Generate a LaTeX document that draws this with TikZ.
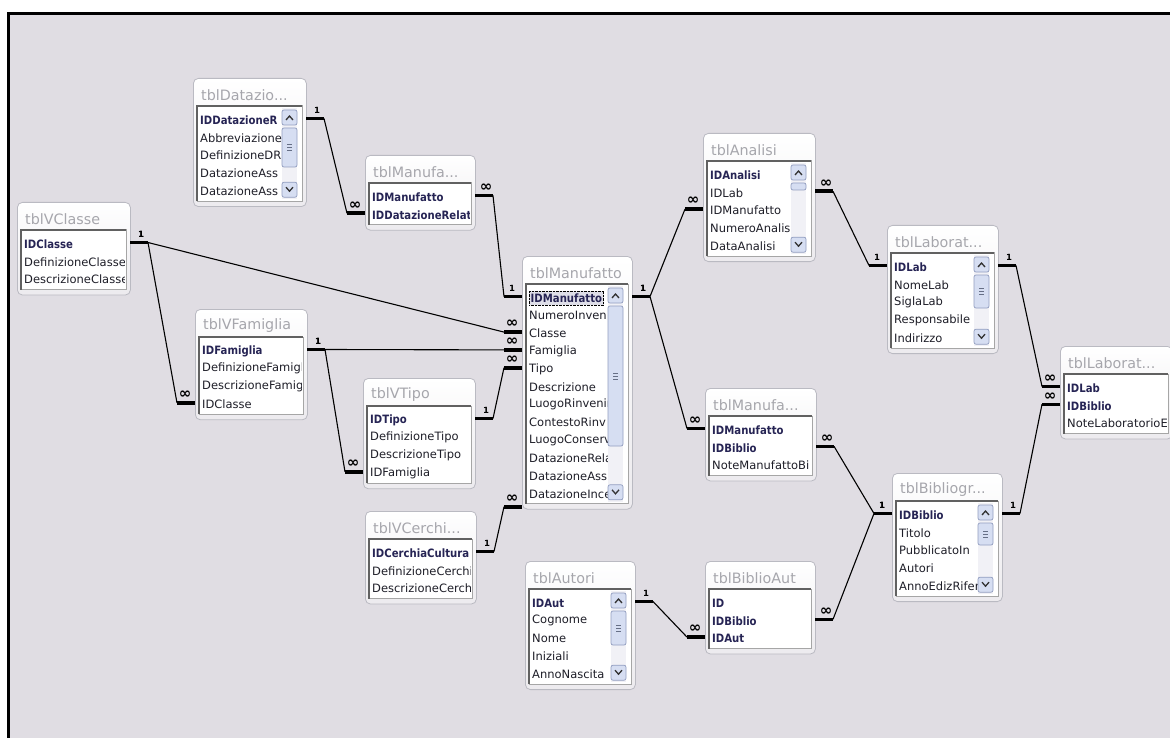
\documentclass[tikz,border=0pt]{standalone}
\usepackage{fontspec}
\setmainfont{DejaVu Sans}
\newfontfamily\keyfont{DejaVu Sans}[FakeStretch=0.88]
\usetikzlibrary{calc}

\definecolor{canvas}{RGB}{224,221,227}
\definecolor{frame}{RGB}{186,186,194}
\definecolor{titlegray}{RGB}{166,166,172}
\definecolor{keyink}{RGB}{38,36,84}
\definecolor{fieldink}{RGB}{30,30,40}
\definecolor{btnfill}{RGB}{214,222,242}
\definecolor{btnline}{RGB}{146,158,192}
\definecolor{track}{RGB}{241,241,246}
\definecolor{focusfill}{RGB}{222,222,232}

\newcommand\many{{\fontsize{15}{15}\selectfont ∞}}

% one table of the relationship window
\newcommand\dbtable[8]{%
  \pgfmathsetmacro\lbot{#3+42+(#5-1)*17.8+10}%
  \pgfmathsetmacro\fh{\lbot+5-#3}%
  \pgfmathsetmacro\clipr{#6>0 ? #2+#4-25 : #2+#4-6}%
  \node[tframe, minimum width=#4, minimum height=\fh, anchor=north west] (#1) at (#2,#3) {};
  \node[ttitle] (#1-t) at (#2+8,#3+17) {#7};
  \draw[lbox] (#2+4,#3+28) rectangle (#2+#4-4,\lbot);
  \draw[lshade] (#2+4,\lbot) -- (#2+4,#3+28) -- (#2+#4-4,#3+28);
  \coordinate (#1-b-l) at (#2,\lbot+3);
  \begin{scope}
    \clip (#2+5,#3+29) rectangle (\clipr,\lbot-1);
    \foreach \k/\f [count=\i] in {#8} {
      \pgfmathsetmacro\ry{#3+42+(\i-1)*17.8}
      \node[\k] (#1-\i) at (#2+7,\ry) {\f};
      \coordinate (#1-\i-l) at (#2,\ry-1.5);
      \coordinate (#1-\i-r) at (#2+#4,\ry-1.5);
    }
  \end{scope}
  \ifnum#6>0
    \pgfmathsetmacro\sbl{#2+#4-24}%
    \pgfmathsetmacro\sbr{#2+#4-9}%
    \pgfmathsetmacro\ltop{#3+28}%
    \fill[track] (\sbl,\ltop+2) rectangle (\sbr,\lbot-2);
    \draw[sbtn] (\sbl,\ltop+4) rectangle (\sbr,\ltop+19);
    \draw[chev] (\sbl+4,\ltop+14) -- (\sbl+7.5,\ltop+10) -- (\sbl+11,\ltop+14);
    \draw[sbtn] (\sbl,\lbot-19) rectangle (\sbr,\lbot-4);
    \draw[chev] (\sbl+4,\lbot-14) -- (\sbl+7.5,\lbot-10) -- (\sbl+11,\lbot-14);
    \draw[sbtn] (\sbl,\ltop+22) rectangle (\sbr,\ltop+22+#6);
    \ifnum#6>20
      \foreach \g in {-3,0,3}
        \draw[grip] (\sbl+5,\ltop+22+#6/2+\g) -- (\sbr-5,\ltop+22+#6/2+\g);
    \fi
  \fi
}

% one relationship: stub, line, stub and the two labels
\newcommand\rel[4]{%
  \draw[stub] (#1) -- ++(18,0) coordinate (#1-s);
  \draw[stub] (#2) -- ++(-18,0) coordinate (#2-s);
  \draw[link] (#1-s) -- (#2-s);
  \node[card] (#1-c) at ($(#1)+(11,-8)$) {#3};
  \node[card] (#2-c) at ($(#2)+(-10,-8)$) {#4};
}

\begin{document}
\begin{tikzpicture}[x=1pt, y=-1pt,
  tframe/.style={draw=frame, line width=0.8, rounded corners=5, top color=white, bottom color=canvas!60!white},
  ttitle/.style={anchor=west, inner sep=0, text=titlegray, font=\fontsize{14.3}{16}\selectfont},
  lbox/.style={fill=white, draw=black!35, line width=1},
  lshade/.style={draw=black!62, line width=1.6},
  fld/.style={anchor=west, inner sep=0, text=fieldink, font=\fontsize{11.5}{13}\selectfont},
  key/.style={fld, text=keyink, font=\keyfont\bfseries\fontsize{11.5}{13}\selectfont},
  focus/.style={key, fill=focusfill, draw=black, densely dotted, inner xsep=1.5, inner ysep=2.5},
  track/.style={fill=track},
  sbtn/.style={draw=btnline, fill=btnfill, rounded corners=2, line width=0.7},
  chev/.style={draw=black!80, line width=1.3},
  grip/.style={draw=btnline!70!black, line width=0.6},
  stub/.style={line width=3.6},
  link/.style={line width=1.1},
  card/.style={inner sep=0, font=\fontsize{8.5}{8.5}\selectfont\bfseries}]
\useasboundingbox (0,0) rectangle (1170,738);
\fill[white] (0,0) rectangle (1170,738);
\fill[canvas] (9,14) rectangle (1175,745);
\draw[line width=2.6] (8.7,745) -- (8.7,13.3) -- (1175,13.3);

\dbtable{datazio}{193}{78}{113}{5}{39}{tblDatazio...}{key/IDDatazioneR,fld/Abbreviazione,fld/DefinizioneDR,fld/DatazioneAss,fld/DatazioneAss}
\dbtable{manufaA}{365}{155}{110}{2}{0}{tblManufa...}{key/IDManufatto,key/IDDatazioneRelat}
\dbtable{vclasse}{17}{202}{113}{3}{0}{tblVClasse}{key/IDClasse,fld/DefinizioneClasse,fld/DescrizioneClasse}
\dbtable{vfamiglia}{195}{309}{112}{4}{0}{tblVFamiglia}{key/IDFamiglia,fld/DefinizioneFamigl,fld/DescrizioneFamig,fld/IDClasse}
\dbtable{vtipo}{363}{378}{112}{4}{0}{tblVTipo}{key/IDTipo,fld/DefinizioneTipo,fld/DescrizioneTipo,fld/IDFamiglia}
\dbtable{vcerchi}{365}{511}{111}{3}{0}{tblVCerchi...}{key/IDCerchiaCultura,fld/DefinizioneCerchi,fld/DescrizioneCerch}
\dbtable{manufatto}{522}{256}{110}{12}{140}{tblManufatto}{focus/IDManufatto,fld/NumeroInven,fld/Classe,fld/Famiglia,fld/Tipo,fld/Descrizione,fld/LuogoRinvenir,fld/ContestoRinv,fld/LuogoConserv,fld/DatazioneRela,fld/DatazioneAss,fld/DatazioneInce}
\dbtable{autori}{525}{561}{110}{5}{34}{tblAutori}{key/IDAut,fld/Cognome,fld/Nome,fld/Iniziali,fld/AnnoNascita}
\dbtable{analisi}{703}{133}{112}{5}{7}{tblAnalisi}{key/IDAnalisi,fld/IDLab,fld/IDManufatto,fld/NumeroAnalis,fld/DataAnalisi}
\dbtable{manufaB}{705}{388}{111}{3}{0}{tblManufa...}{key/IDManufatto,key/IDBiblio,fld/NoteManufattoBi}
\dbtable{biblioaut}{705}{561}{110}{3}{0}{tblBiblioAut}{key/ID,key/IDBiblio,key/IDAut}
\dbtable{laborat}{887}{225}{111}{5}{33}{tblLaborat...}{key/IDLab,fld/NomeLab,fld/SiglaLab,fld/Responsabile,fld/Indirizzo}
\dbtable{bibliogr}{892}{473}{110}{5}{22}{tblBibliogr...}{key/IDBiblio,fld/Titolo,fld/PubblicatoIn,fld/Autori,fld/AnnoEdizRifer}
\dbtable{laboratB}{1060}{346}{112}{3}{0}{tblLaborat...}{key/IDLab,key/IDBiblio,fld/NoteLaboratorioE}

\rel{datazio-1-r}{manufaA-2-l}{1}{\many}
\rel{manufaA-1-r}{manufatto-1-l}{\many}{1}
\rel{vclasse-1-r}{manufatto-3-l}{1}{\many}
\rel{vclasse-1-r}{vfamiglia-4-l}{1}{\many}
\rel{vfamiglia-1-r}{manufatto-4-l}{1}{\many}
\rel{vfamiglia-1-r}{vtipo-4-l}{1}{\many}
\rel{vtipo-1-r}{manufatto-5-l}{1}{\many}
\rel{vcerchi-1-r}{manufatto-b-l}{1}{\many}
\rel{manufatto-1-r}{analisi-3-l}{1}{\many}
\rel{manufatto-1-r}{manufaB-1-l}{1}{\many}
\rel{analisi-2-r}{laborat-1-l}{\many}{1}
\rel{laborat-1-r}{laboratB-1-l}{1}{\many}
\rel{bibliogr-1-r}{laboratB-2-l}{1}{\many}
\rel{manufaB-2-r}{bibliogr-1-l}{\many}{1}
\rel{biblioaut-2-r}{bibliogr-1-l}{\many}{1}
\rel{autori-1-r}{biblioaut-3-l}{1}{\many}
\end{tikzpicture}
\end{document}
